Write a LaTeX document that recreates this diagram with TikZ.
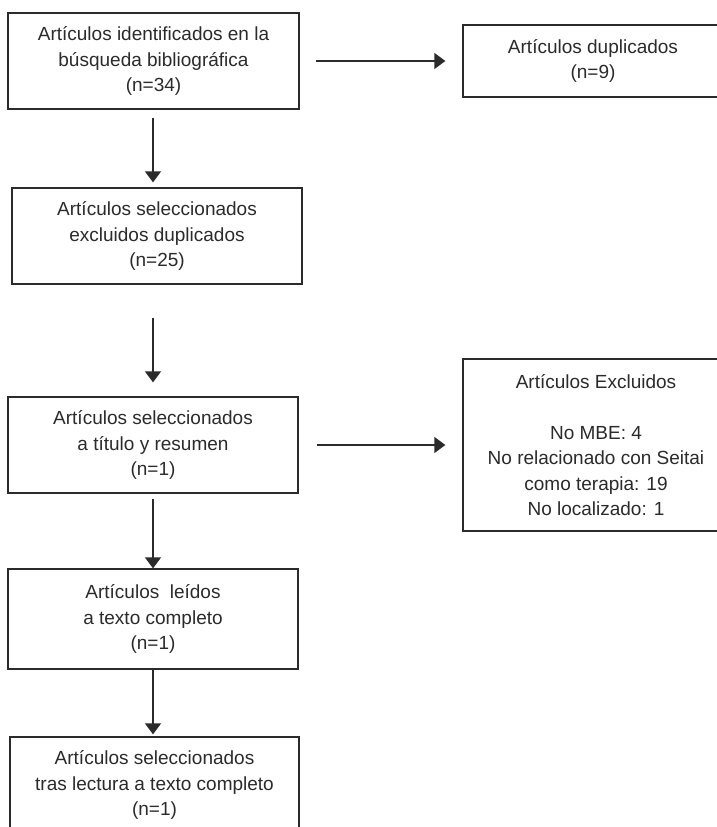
\documentclass[tikz,border=0pt]{standalone}
\usepackage{fontspec}
\setmainfont{Liberation Sans}
\usetikzlibrary{arrows.meta}
\definecolor{ink}{HTML}{2B2B2B}
\begin{document}
\begin{tikzpicture}[x=1pt,y=-1pt,
  boxnode/.style={draw=ink,line width=1.3pt,rectangle,align=center,text=ink,
    font=\fontsize{19}{25.5}\selectfont,inner sep=0pt},
  flowarrow/.style={draw=ink,line width=1.3pt,-{Triangle[width=16pt,length=11pt]}}]
\useasboundingbox (0,0) rectangle (717,827);
\fill[white] (0,0) rectangle (717,827);
\node[boxnode,minimum width=291pt,minimum height=96pt] (b1) at (153.5,61) {Artículos identificados en la\\búsqueda bibliográfica\\(n=34)};
\node[boxnode,minimum width=260pt,minimum height=72pt] (b2) at (593,61) {Artículos duplicados\\(n=9)};
\node[boxnode,minimum width=290pt,minimum height=96pt] (b3) at (157,236) {Artículos seleccionados\\excluidos duplicados\\(n=25)};
\node[boxnode,minimum width=290pt,minimum height=96pt] (b4) at (153,445) {Artículos seleccionados\\a título y resumen\\(n=1)};
\node[boxnode,minimum width=266pt,minimum height=172pt] (b7) at (596,445) {Artículos Excluidos\\[25.5pt]No MBE: 4\\No relacionado con Seitai\\como terapia: 19\\No localizado: 1};
\node[boxnode,minimum width=290pt,minimum height=100pt] (b5) at (153,619) {Artículos\ \ leídos\\a texto completo\\(n=1)};
\node[boxnode,minimum width=289pt,minimum height=96pt] (b6) at (154.5,785) {Artículos seleccionados\\tras lectura a texto completo\\(n=1)};
\draw[flowarrow,shorten <=8pt,shorten >=5pt] (b1.south -| 153,0) -- (b3.north -| 153,0);
\draw[flowarrow,shorten <=33pt,shorten >=14pt] (b3.south -| 153,0) -- (b4.north -| 153,0);
\draw[flowarrow,shorten <=5pt,shorten >=0pt] (b4.south) -- (b5.north);
\draw[flowarrow,shorten <=0pt,shorten >=2pt] (b5.south) -- (b6.north -| b5.south);
\draw[flowarrow,shorten <=16pt,shorten >=17pt] (b1.east) -- (b2.west);
\draw[flowarrow,shorten <=18pt,shorten >=17pt] (b4.east) -- (b7.west);
\end{tikzpicture}
\end{document}
